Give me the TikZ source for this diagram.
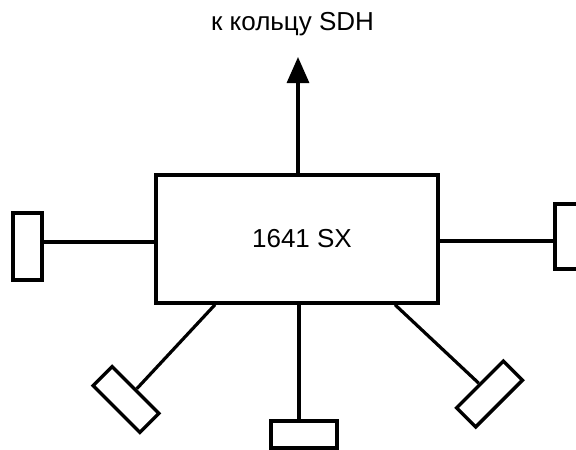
\documentclass[tikz,border=0pt]{standalone}
\usepackage{fontspec}
\setmainfont{Liberation Sans}
\usetikzlibrary{arrows.meta}
\begin{document}
\begin{tikzpicture}[x=1pt,y=-1pt,
  conn/.style={line width=3.2pt},
  unit/.style={draw,line width=3.4pt,rectangle,inner sep=0pt,minimum width=66pt,minimum height=27pt},
  lbl/.style={font=\fontsize{26}{31}\selectfont,inner sep=0pt}]
\clip (0,0) rectangle (576,450);
\fill[white] (0,0) rectangle (576,450);
\node[draw,line width=3.4pt,rectangle,minimum width=282pt,minimum height=128pt,lbl] (box) at (297,239) {\hspace{10pt}1641 SX};
\node[lbl,anchor=base] (ring) at (292.5,30) {к кольцу SDH};
\coordinate (tip) at (298,57);
\node[unit,minimum width=29pt,minimum height=67pt] (lbox) at (27.5,246.5) {};
\node[unit,minimum width=29pt,minimum height=65pt] (rbox) at (569.5,236.5) {};
\node[unit] (bbox) at (304,434.5) {};
\node[unit,rotate=-45] (blbox) at (126,399.5) {};
\node[unit,rotate=45] (brbox) at (489.5,394) {};
\draw[conn,-{Triangle[length=26pt,width=22pt]}] (box.north -| tip) -- (tip);
\draw[conn] (lbox.east |- 0,242) -- (box.west |- 0,242);
\draw[conn] (box.east |- 0,241) -- (rbox.west |- 0,241);
\draw[conn] (box.south -| 299,0) -- (bbox.north -| 299,0);
\draw[conn] (box.south -| 215,0) -- (blbox.north);
\draw[conn] (box.south -| 395,0) -- (brbox.north);
\end{tikzpicture}
\end{document}
